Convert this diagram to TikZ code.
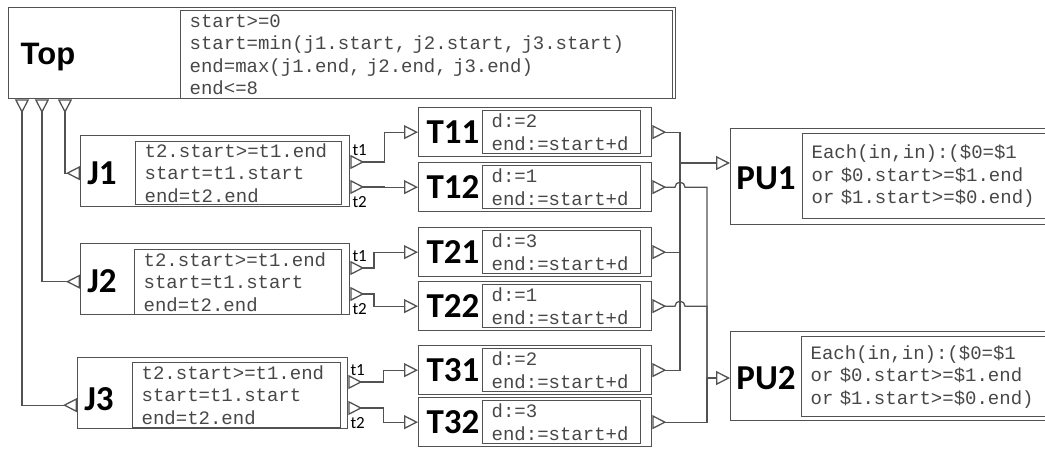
\documentclass[tikz,border=0pt]{standalone}
\usepackage{fontspec}
\setmainfont{Carlito}
\setmonofont{Liberation Mono}
\newfontfamily\arialfont{Liberation Sans}
\usetikzlibrary{calc,arrows.meta}
\colorlet{wire}{black!68}
\tikzset{
	outerbox/.style={draw=wire,line width=1.3pt,inner sep=0pt,anchor=north west},
	codebox/.style={draw=wire,line width=1.3pt,anchor=north west,align=left,
		inner xsep=9pt,inner ysep=0pt,text=black!72,
		font=\fontsize{19}{22.5}\selectfont\ttfamily},
	blocklabel/.style={inner sep=0pt,font=\fontsize{35}{35}\selectfont\bfseries},
	portlabel/.style={inner sep=0pt,font=\fontsize{17}{17}\selectfont},
	link/.style={draw=wire,line width=1.3pt},
	outport/.style={link,{Triangle[open,reversed,length=14pt,width=14pt]}-},
	inport/.style={link,-{Triangle[open,length=14pt,width=14pt]}},
	bothport/.style={link,{Triangle[open,reversed,length=14pt,width=14pt]}-{Triangle[open,reversed,length=14pt,width=14pt]}},
	thruport/.style={link,{Triangle[open,reversed,length=14pt,width=14pt]}-{Triangle[open,length=14pt,width=14pt]}}
}

\begin{document}
\begin{tikzpicture}[x=1pt,y=-1pt]
		\useasboundingbox (0,0) rectangle (1045,448);

		% top block
		\node [outerbox,minimum width=667pt,minimum height=91pt] (Top) at (8,7) {};
		\node [codebox,text width=474pt,minimum height=88pt] (TopCode) at (180,10)
			{start>=0\\start=min(j1.start, j2.start, j3.start)\\end=max(j1.end, j2.end, j3.end)\\end<=8};
		\node [inner sep=0pt,font=\fontsize{31}{31}\selectfont\arialfont\bfseries] (TopLabel)
			at ($(Top.west)+(40,4)$) {Top};

		% jobs
		\node [outerbox,minimum width=269pt,minimum height=71pt] (J1) at (80,135) {};
		\node [outerbox,minimum width=269pt,minimum height=71pt] (J2) at (80,243) {};
		\node [outerbox,minimum width=270pt,minimum height=71pt] (J3) at (77,357) {};
		\node [codebox,text width=188pt,minimum height=63pt] (J1code) at (135,141)
			{t2.start>=t1.end\\start=t1.start\\end=t2.end};
		\node [codebox,text width=189pt,minimum height=65pt] (J2code) at (134,249)
			{t2.start>=t1.end\\start=t1.start\\end=t2.end};
		\node [codebox,text width=190pt,minimum height=65pt] (J3code) at (132,362)
			{t2.start>=t1.end\\start=t1.start\\end=t2.end};
		\node [blocklabel] (J1label) at ($(J1.west)+(22,2)$) {J1};
		\node [blocklabel] (J2label) at ($(J2.west)+(22,2)$) {J2};
		\node [blocklabel] (J3label) at ($(J3.west)+(22,6)$) {J3};

		% tasks
		\node [outerbox,minimum width=233pt,minimum height=49pt] (T11) at (418,107) {};
		\node [outerbox,minimum width=233pt,minimum height=49pt] (T12) at (418,162) {};
		\node [outerbox,minimum width=233pt,minimum height=49pt] (T21) at (418,227) {};
		\node [outerbox,minimum width=233pt,minimum height=49pt] (T22) at (418,281) {};
		\node [outerbox,minimum width=233pt,minimum height=49pt] (T31) at (418,345) {};
		\node [outerbox,minimum width=233pt,minimum height=49pt] (T32) at (418,397) {};
		\node [codebox,text width=140pt,minimum height=43pt] (T11code) at (482,110) {d:=2\\end:=start+d};
		\node [codebox,text width=140pt,minimum height=43pt] (T12code) at (482,165) {d:=1\\end:=start+d};
		\node [codebox,text width=140pt,minimum height=43pt] (T21code) at (482,230) {d:=3\\end:=start+d};
		\node [codebox,text width=140pt,minimum height=43pt] (T22code) at (482,284) {d:=1\\end:=start+d};
		\node [codebox,text width=140pt,minimum height=43pt] (T31code) at (482,348) {d:=2\\end:=start+d};
		\node [codebox,text width=140pt,minimum height=43pt] (T32code) at (482,400) {d:=3\\end:=start+d};
		\node [blocklabel] (T11label) at ($(T11.west)+(35,0)$) {T11};
		\node [blocklabel] (T12label) at ($(T12.west)+(35,0)$) {T12};
		\node [blocklabel] (T21label) at ($(T21.west)+(35,0)$) {T21};
		\node [blocklabel] (T22label) at ($(T22.west)+(35,0)$) {T22};
		\node [blocklabel] (T31label) at ($(T31.west)+(35,0)$) {T31};
		\node [blocklabel] (T32label) at ($(T32.west)+(35,0)$) {T32};

		% processing units
		\node [outerbox,minimum width=340pt,minimum height=96pt] (PU1) at (730,128) {};
		\node [outerbox,minimum width=340pt,minimum height=89pt] (PU2) at (730,331) {};
		\node [codebox,text width=242pt,minimum height=85pt] (PU1code) at (802,133)
			{Each(in,in):(\$0=\$1\\or \$0.start>=\$1.end\\or \$1.start>=\$0.end)};
		\node [codebox,text width=242pt,minimum height=80pt] (PU2code) at (801,336)
			{Each(in,in):(\$0=\$1\\or \$0.start>=\$1.end\\or \$1.start>=\$0.end)};
		\node [blocklabel] (PU1label) at ($(PU1.west)+(36,2)$) {PU1};
		\node [blocklabel] (PU2label) at ($(PU2.west)+(36,2)$) {PU2};

		% ports
		\coordinate (Top1) at ($(Top.south west)+(14,0)$);
		\coordinate (Top2) at ($(Top.south west)+(34,0)$);
		\coordinate (Top3) at ($(Top.south west)+(57,0)$);
		\coordinate (J1in) at ($(J1.west)+(0,2)$);
		\coordinate (J2in) at ($(J2.west)+(0,2.5)$);
		\coordinate (J3in) at ($(J3.west)+(0,12)$);
		\coordinate (J1a) at ($(J1.north east)+(0,27)$);
		\coordinate (J1b) at ($(J1.north east)+(0,52)$);
		\coordinate (J2a) at ($(J2.north east)+(0,25)$);
		\coordinate (J2b) at ($(J2.north east)+(0,51)$);
		\coordinate (J3a) at ($(J3.north east)+(0,25)$);
		\coordinate (J3b) at ($(J3.north east)+(0,51)$);
		\coordinate (Bus1) at (680,163);
		\coordinate (Bus2) at (707,378);

		\node [portlabel,anchor=base west] at ($(J1a)+(2,-7)$) {t1};
		\node [portlabel,anchor=base west] at ($(J1b)+(2,20)$) {t2};
		\node [portlabel,anchor=base west] at ($(J2a)+(2,-7)$) {t1};
		\node [portlabel,anchor=base west] at ($(J2b)+(2,20)$) {t2};
		\node [portlabel,anchor=base west] at ($(J3a)+(2,-7)$) {t1};
		\node [portlabel,anchor=base west] at ($(J3b)+(2,20)$) {t2};

		% top to jobs
		\draw [bothport] (Top1) |- (J3in);
		\draw [bothport] (Top2) |- (J2in);
		\draw [bothport] (Top3) |- (J1in);

		% jobs to tasks
		\draw [thruport] (J1a) -| ($(J1a)!.5!(T11.west)$) |- (T11.west);
		\draw [thruport] (J1b) -| ($(J1b)!.5!(T12.west)$) |- (T12.west);
		\draw [thruport] (J2a) -| ($(J2a)!.35!(T21.west)$) |- (T21.west);
		\draw [thruport] (J2b) -| ($(J2b)!.35!(T22.west)$) |- (T22.west);
		\draw [thruport] (J3a) -| ($(J3a)!.5!(T31.west)$) |- (T31.west);
		\draw [thruport] (J3b) -| ($(J3b)!.5!(T32.west)$) |- (T32.west);

		% tasks to units
		\draw [outport] (T11.east) -| (Bus1);
		\draw [outport] (T21.east) -| (Bus1);
		\draw [outport] (T31.east) -| (Bus1);
		\draw [inport] (Bus1) -- (Bus1 -| PU1.west);
		\draw [outport] (T12.east) -- ($(T12.east -| Bus1)+(-5,0)$)
			arc [start angle=180,end angle=360,radius=5] -| (Bus2);
		\draw [outport] (T22.east) -- ($(T22.east -| Bus1)+(-5,0)$)
			arc [start angle=180,end angle=360,radius=5] -| (Bus2);
		\draw [outport] (T32.east) -| (Bus2);
		\draw [inport] (Bus2) -- (Bus2 -| PU2.west);

	\end{tikzpicture}
\end{document}
